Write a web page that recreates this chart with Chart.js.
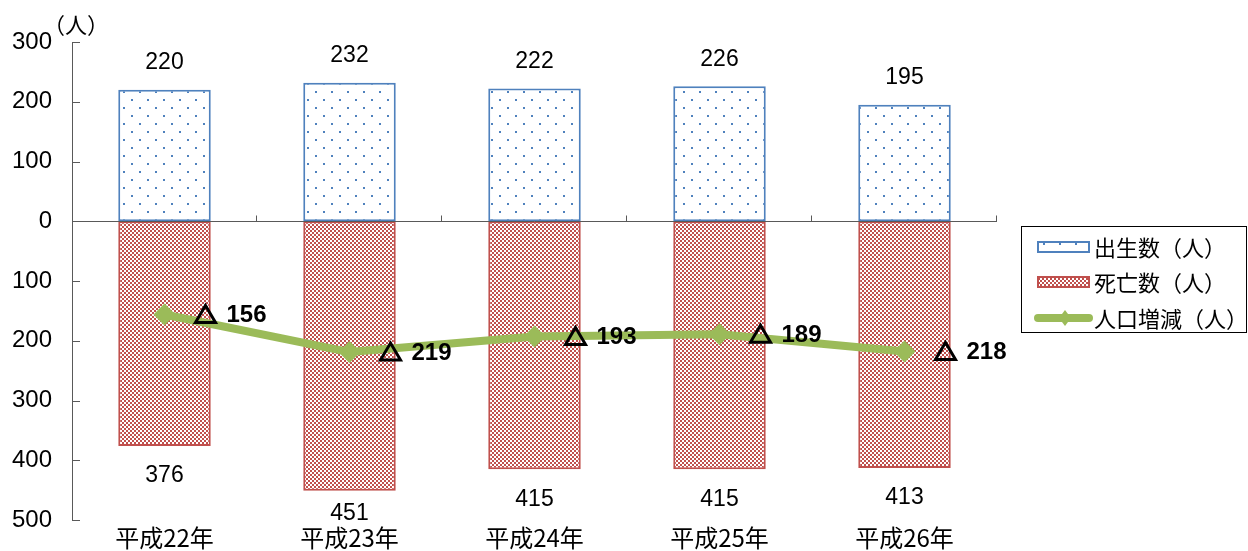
<!DOCTYPE html>
<html lang="ja">
<head>
    <meta charset="UTF-8">
    <title>人口動態</title>
    <script src="https://cdn.jsdelivr.net/npm/chart.js"></script>
    <style>
        body { margin: 0; padding: 0; background: #fff; }
        .wrap { position: relative; width: 1248px; height: 551px; }
    </style>
</head>
<body>
    <div class="wrap">
        <canvas id="popChart"></canvas>
    </div>

    <script>
        // データ
        const years = ['平成22年', '平成23年', '平成24年', '平成25年', '平成26年'];
        const births = [220, 232, 222, 226, 195];
        const deaths = [376, 451, 415, 415, 413];
        const decrease = [156, 219, 193, 189, 218];
        const yTicks = [300, 200, 100, 0, -100, -200, -300, -400, -500];

        const BLUE = '#4f81bd';
        const RED = '#c0504d';
        const GREEN = '#9bbb59';
        const NUM_FONT = '"Liberation Sans", Arial, sans-serif';
        const JP_FONT = '"Noto Sans CJK JP", "Noto Sans", sans-serif';

        // 塗りつぶしパターン
        function dotPattern() {
            const c = document.createElement('canvas');
            c.width = 16; c.height = 16;
            const g = c.getContext('2d');
            g.fillStyle = '#fff';
            g.fillRect(0, 0, 16, 16);
            g.fillStyle = BLUE;
            g.fillRect(3, 3, 2, 2);
            g.fillRect(11, 11, 2, 2);
            return g.createPattern(c, 'repeat');
        }
        function checkPattern() {
            const c = document.createElement('canvas');
            c.width = 4; c.height = 4;
            const g = c.getContext('2d');
            g.fillStyle = '#fff';
            g.fillRect(0, 0, 4, 4);
            g.fillStyle = RED;
            g.fillRect(0, 0, 2, 2);
            g.fillRect(2, 2, 2, 2);
            return g.createPattern(c, 'repeat');
        }
        const dots = dotPattern();
        const checks = checkPattern();

        function triangle(ctx, cx, cy) {
            ctx.beginPath();
            ctx.moveTo(cx, cy - 9);
            ctx.lineTo(cx + 10, cy + 8);
            ctx.lineTo(cx - 10, cy + 8);
            ctx.closePath();
            ctx.stroke();
        }

        // 軸・ラベル・凡例を描くプラグイン
        const decorations = {
            id: 'decorations',
            afterDatasetsDraw(chart) {
                const ctx = chart.ctx;
                const area = chart.chartArea;
                const y = chart.scales.y;
                ctx.save();

                // 0 の線とカテゴリ区切り
                const y0 = Math.round(y.getPixelForValue(0)) + 0.5;
                ctx.strokeStyle = '#595959';
                ctx.lineWidth = 1;
                ctx.beginPath();
                ctx.moveTo(area.left, y0);
                ctx.lineTo(area.right, y0);
                const step = (area.right - area.left) / years.length;
                for (let i = 1; i <= years.length; i++) {
                    const px = Math.round(area.left + step * i) - 0.5;
                    ctx.moveTo(px, y0);
                    ctx.lineTo(px, y0 - 6);
                }
                // y 軸の目盛（内向き）
                yTicks.forEach(v => {
                    const py = Math.round(y.getPixelForValue(v)) + 0.5;
                    ctx.moveTo(area.left, py);
                    ctx.lineTo(area.left + 8, py);
                });
                ctx.stroke();

                // 棒のラベル
                ctx.fillStyle = '#000';
                ctx.textAlign = 'center';
                ctx.textBaseline = 'middle';
                ctx.font = '23px ' + NUM_FONT;
                chart.getDatasetMeta(0).data.forEach((bar, i) => {
                    ctx.fillText(births[i], bar.x, bar.y - 27);
                });
                chart.getDatasetMeta(1).data.forEach((bar, i) => {
                    ctx.fillText(deaths[i], bar.x, Math.min(bar.y + 30, area.bottom - 6));
                });

                // 人口増減のラベル
                ctx.strokeStyle = '#000';
                ctx.lineWidth = 3;
                ctx.lineJoin = 'miter';
                chart.getDatasetMeta(2).data.forEach((pt, i) => {
                    triangle(ctx, pt.x + 41, pt.y);
                    ctx.textAlign = 'left';
                    ctx.font = 'bold 24px ' + NUM_FONT;
                    ctx.fillText(decrease[i], pt.x + 62, pt.y + 1);
                });

                // 単位
                ctx.textAlign = 'center';
                ctx.font = '22px ' + JP_FONT;
                ctx.fillText('（人）', 76, 25);

                // 凡例
                const lx = 1021, ly = 226, lw = 226, lh = 107;
                ctx.strokeStyle = '#000';
                ctx.lineWidth = 1;
                ctx.strokeRect(lx + 0.5, ly + 0.5, lw - 1, lh - 1);
                const rows = [247, 282, 318];
                const names = ['出生数（人）', '死亡数（人）', '人口増減（人）'];
                ctx.lineWidth = 2;
                ctx.fillStyle = dots;
                ctx.fillRect(1038, rows[0] - 5, 51, 10);
                ctx.strokeStyle = BLUE;
                ctx.strokeRect(1038, rows[0] - 5, 51, 10);
                ctx.fillStyle = checks;
                ctx.fillRect(1038, rows[1] - 5, 51, 10);
                ctx.strokeStyle = RED;
                ctx.strokeRect(1038, rows[1] - 5, 51, 10);
                ctx.strokeStyle = GREEN;
                ctx.lineWidth = 8;
                ctx.lineCap = 'round';
                ctx.beginPath();
                ctx.moveTo(1038, rows[2]);
                ctx.lineTo(1089, rows[2]);
                ctx.stroke();
                ctx.fillStyle = GREEN;
                ctx.beginPath();
                ctx.moveTo(1065, rows[2] - 8);
                ctx.lineTo(1071, rows[2]);
                ctx.lineTo(1065, rows[2] + 8);
                ctx.lineTo(1059, rows[2]);
                ctx.closePath();
                ctx.fill();
                ctx.fillStyle = '#000';
                ctx.textAlign = 'left';
                ctx.font = '22px ' + JP_FONT;
                names.forEach((n, i) => ctx.fillText(n, 1094, rows[i] + 1));

                ctx.restore();
            }
        };

        new Chart(document.getElementById('popChart'), {
            data: {
                labels: years,
                datasets: [
                    {
                        type: 'bar',
                        label: '出生数（人）',
                        data: births,
                        backgroundColor: dots,
                        borderColor: BLUE,
                        borderWidth: 2,
                        borderSkipped: false,
                        order: 2
                    },
                    {
                        type: 'bar',
                        label: '死亡数（人）',
                        data: deaths.map(v => -v),
                        backgroundColor: checks,
                        borderColor: RED,
                        borderWidth: 2,
                        borderSkipped: false,
                        order: 1
                    },
                    {
                        type: 'line',
                        label: '人口増減（人）',
                        data: decrease.map(v => -v),
                        borderColor: GREEN,
                        backgroundColor: GREEN,
                        borderWidth: 8,
                        borderCapStyle: 'round',
                        borderJoinStyle: 'round',
                        pointStyle: 'rectRot',
                        pointRadius: 11,
                        pointBorderWidth: 0,
                        tension: 0,
                        order: 0
                    }
                ]
            },
            options: {
                responsive: true,
                maintainAspectRatio: false,
                animation: false,
                layout: { padding: { top: 42, right: 251, left: 0, bottom: 0 } },
                plugins: {
                    legend: { display: false },
                    tooltip: { enabled: false }
                },
                datasets: {
                    bar: { categoryPercentage: 1, barPercentage: 0.5 }
                },
                scales: {
                    x: {
                        stacked: true,
                        grid: { display: false, drawTicks: false },
                        border: { display: false },
                        ticks: {
                            color: '#000',
                            padding: 3,
                            font: { family: JP_FONT, size: 24 }
                        },
                        afterFit(scale) { scale.height = 31; }
                    },
                    y: {
                        stacked: false,
                        min: -500,
                        max: 300,
                        grid: { display: false, drawTicks: false },
                        border: { display: true, color: '#595959', width: 1 },
                        ticks: {
                            stepSize: 100,
                            color: '#000',
                            padding: 20,
                            font: { family: NUM_FONT, size: 24 },
                            callback: v => Math.abs(v)
                        },
                        afterFit(scale) {
                            scale.width = 72;
                            scale.paddingTop = 0;
                            scale.paddingBottom = 0;
                        }
                    }
                }
            },
            plugins: [decorations]
        });
    </script>
</body>
</html>
